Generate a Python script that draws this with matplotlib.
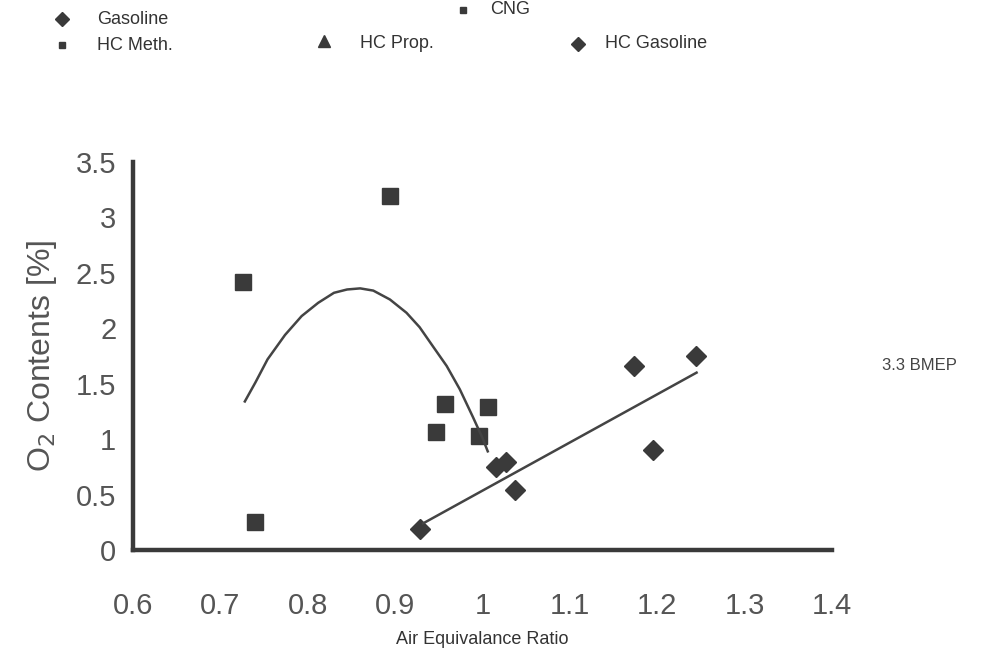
import matplotlib
matplotlib.use("Agg")
import matplotlib.pyplot as plt
from matplotlib.lines import Line2D

# CNG measurements (squares)
cng_x = [0.726, 0.740, 0.894, 0.947, 0.957, 0.996, 1.006]
cng_y = [2.42, 0.25, 3.19, 1.06, 1.32, 1.03, 1.29]

# Gasoline measurements (diamonds)
gas_x = [0.928, 1.016, 1.027, 1.037, 1.173, 1.195, 1.244]
gas_y = [0.19, 0.75, 0.79, 0.54, 1.66, 0.90, 1.75]

# trendlines
cng_fit_x = [0.728, 0.740, 0.754, 0.774, 0.793, 0.812, 0.830, 0.845, 0.860, 0.875,
             0.894, 0.913, 0.928, 0.943, 0.959, 0.974, 0.989, 1.000, 1.006]
cng_fit_y = [1.34, 1.51, 1.72, 1.94, 2.11, 2.23, 2.32, 2.35, 2.36, 2.34,
             2.26, 2.14, 2.01, 1.84, 1.66, 1.45, 1.20, 1.01, 0.89]
gas_fit_x = [0.932, 1.245]
gas_fit_y = [0.24, 1.60]

x_ticks = [0.6, 0.7, 0.8, 0.9, 1.0, 1.1, 1.2, 1.3, 1.4]
x_ticklabels = ["0.6", "0.7", "0.8", "0.9", "1", "1.1", "1.2", "1.3", "1.4"]
y_ticks = [0, 0.5, 1, 1.5, 2, 2.5, 3, 3.5]
y_ticklabels = ["0", "0.5", "1", "1.5", "2", "2.5", "3", "3.5"]

# legend entries: (label, marker, marker size, marker xy, text xy) in figure pixels
legend_items = [
    ("Gasoline", "D", 7, (62, 19), (97, 20)),
    ("CNG", "s", 5, (463, 10), (490, 9)),
    ("HC Meth.", "s", 5, (62, 45), (97, 45)),
    ("HC Prop.", "^", 8, (324, 41), (360, 43)),
    ("HC Gasoline", "D", 7, (578, 44), (605, 44)),
]

plt.rcParams['font.family'] = ['Liberation Sans', 'DejaVu Sans']

W, H = 986, 657
fig = plt.figure(figsize=(W / 100, H / 100), dpi=100)
ax = fig.add_axes([133 / W, 1 - 550 / H, (832 - 133) / W, (550 - 162) / H])

mark_col = "#3a3a3a"
ax.plot(cng_x, cng_y, "s", color=mark_col, markersize=11.5, linestyle="none", clip_on=False)
ax.plot(gas_x, gas_y, "D", color=mark_col, markersize=10, linestyle="none", clip_on=False)
ax.plot(cng_fit_x, cng_fit_y, color="#444444", linewidth=1.8)
ax.plot(gas_fit_x, gas_fit_y, color="#444444", linewidth=1.8)

ax.set_xlim(0.6, 1.4)
ax.set_ylim(0, 3.5)
ax.set_xticks(x_ticks)
ax.set_xticklabels(x_ticklabels)
ax.set_yticks(y_ticks)
ax.set_yticklabels(y_ticklabels)
ax.tick_params(length=0, labelsize=21, labelcolor="#555555")
ax.tick_params(axis="x", pad=30)
ax.tick_params(axis="y", pad=12)

for side in ["top", "right"]:
    ax.spines[side].set_visible(False)
for side in ["left", "bottom"]:
    ax.spines[side].set_linewidth(3.2)
    ax.spines[side].set_color("#3a3a3a")

ax.set_ylabel("O$_2$ Contents [%]", fontsize=23, color="#555555", labelpad=12)
fig.text(482 / W, 1 - 640 / H, "Air Equivalance Ratio", fontsize=13,
         color="#333333", ha="center", va="center")
fig.text(882 / W, 1 - 366 / H, "3.3 BMEP", fontsize=12, color="#444444",
         ha="left", va="center")

for label, mk, ms, (mx, my), (tx, ty) in legend_items:
    fig.add_artist(Line2D([mx / W], [1 - my / H], marker=mk, markersize=ms,
                          color=mark_col, linestyle="none", transform=fig.transFigure))
    fig.text(tx / W, 1 - ty / H, label, fontsize=13, color="#333333",
             ha="left", va="center")

fig.savefig("out.png", dpi=100)
